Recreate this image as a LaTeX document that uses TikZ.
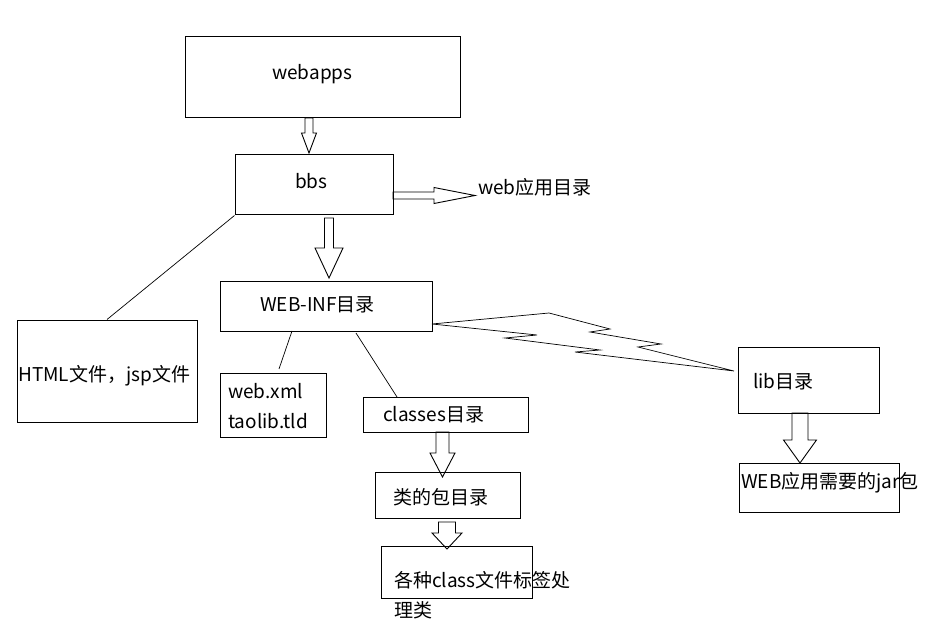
\documentclass[tikz,border=0pt]{standalone}
\usepackage{fontspec}
\newfontfamily\cjk{Noto Sans CJK SC}
\usetikzlibrary{calc}

\newcommand{\hollowdown}[5]{% from, to, shaft half width, head half width, head length
    \draw[harrow] let \p1=(#1), \p2=(#2) in
        (\x1-#3,\y1) -- (\x1+#3,\y1) -- (\x1+#3,\y2+#5) -- (\x1+#4,\y2+#5)
        -- (\x1,\y2) -- (\x1-#4,\y2+#5) -- (\x1-#3,\y2+#5) -- cycle;}

\begin{document}
\begin{tikzpicture}[x=1pt,y=-1pt]
                \tikzstyle{box}=[rectangle,draw=black,line width=1pt,inner sep=0pt]
                \tikzstyle{txt}=[anchor=west,inner sep=0pt,align=left,font=\cjk\fontsize{19}{30}\selectfont]
                \tikzstyle{harrow}=[draw=black,line width=0.9pt,line join=miter]
                \tikzstyle{thin}=[draw=black,line width=0.7pt]
                \fill[white] (0,0) rectangle (926,628);
                \useasboundingbox (0,0) rectangle (926,628);

                % boxes: name/centre x/centre y/width/height
                \foreach \name/\cx/\cy/\w/\h in {webapps/322.5/77.5/275/81, bbs/314/185/158/60,
                        webinf/326/306.5/212/49, html/107/371/180/102, webxml/273/405/106/64,
                        classes/445.5/414.5/165/35, pkg/447.5/495/145/46, cls/456.5/572/151/52,
                        lib/808.5/380/141/66, jar/819/487.5/160/49}
                    \node[box,minimum width=\w,minimum height=\h] (\name) at (\cx,\cy) {};

                % texts
                \node[txt] (webapps-t) at (272,74) {webapps};
                \node[txt] (bbs-t) at (295,181) {bbs};
                \node[txt] (webdir-t) at (478,187) {web应用目录};
                \node[txt] (webinf-t) at (260,305) {WEB-INF目录};
                \node[txt] (html-t) at (18,376) {HTML文件，jsp文件};
                \node[txt] (webxml-t) at (228,406) {web.xml\\taolib.tld};
                \node[txt] (classes-t) at (383,415) {classes目录};
                \node[txt] (pkg-t) at (393,497) {类的包目录};
                \node[txt] (cls-t) at (394,595) {各种class文件标签处\\理类};
                \node[txt] (lib-t) at (753,382) {lib目录};
                \node[txt] (jar-t) at (741,483) {WEB应用需要的jar包};

                % hollow arrows
                \coordinate (a1-s) at (309,118);   \coordinate (a1-e) at (309,153);
                \coordinate (a2-s) at (329,218);   \coordinate (a2-e) at (329,278);
                \coordinate (a3-s) at (442.5,432); \coordinate (a3-e) at (442.5,477);
                \coordinate (a4-s) at (447,522);   \coordinate (a4-e) at (447,549);
                \coordinate (a5-s) at (800,413);   \coordinate (a5-e) at (800,463);
                \hollowdown{a1-s}{a1-e}{4pt}{7.5pt}{20pt}
                \hollowdown{a2-s}{a2-e}{4.5pt}{14pt}{30pt}
                \hollowdown{a3-s}{a3-e}{6.5pt}{12.5pt}{24pt}
                \hollowdown{a4-s}{a4-e}{8.5pt}{15pt}{16pt}
                \hollowdown{a5-s}{a5-e}{8pt}{16.5pt}{23pt}
                \coordinate (a6-s) at (393,195.5); \coordinate (a6-e) at (475,195.5);
                \draw[harrow] let \p1=(a6-s), \p2=(a6-e) in
                    (\x1,\y1+3.5pt) -- (\x2-41pt,\y1+3.5pt) -- (\x2-41pt,\y1+8pt) -- (\x2,\y1)
                    -- (\x2-41pt,\y1-8pt) -- (\x2-41pt,\y1-3.5pt) -- (\x1,\y1-3.5pt) -- cycle;

                % plain links
                \coordinate (l1-s) at (292,331); \coordinate (l1-e) at (279,369);
                \coordinate (l2-s) at (356,333); \coordinate (l2-e) at (397,397);
                \draw[thin] (bbs.south west) -- (html.north);
                \draw[thin] (l1-s) -- (l1-e);
                \draw[thin] (l2-s) -- (l2-e);

                % zigzag link WEB-INF -> lib
                \coordinate (z-s) at (432,324); \coordinate (z-e) at (734,371);
                \draw[thin,line join=miter] (z-s) -- (549,313) -- (610,329) -- (590,332) -- (661,344)
                    -- (638,347) -- (z-e) -- (575,352) -- (600,350) -- (505,338) -- (537,335) -- cycle;
            \end{tikzpicture}
\end{document}
